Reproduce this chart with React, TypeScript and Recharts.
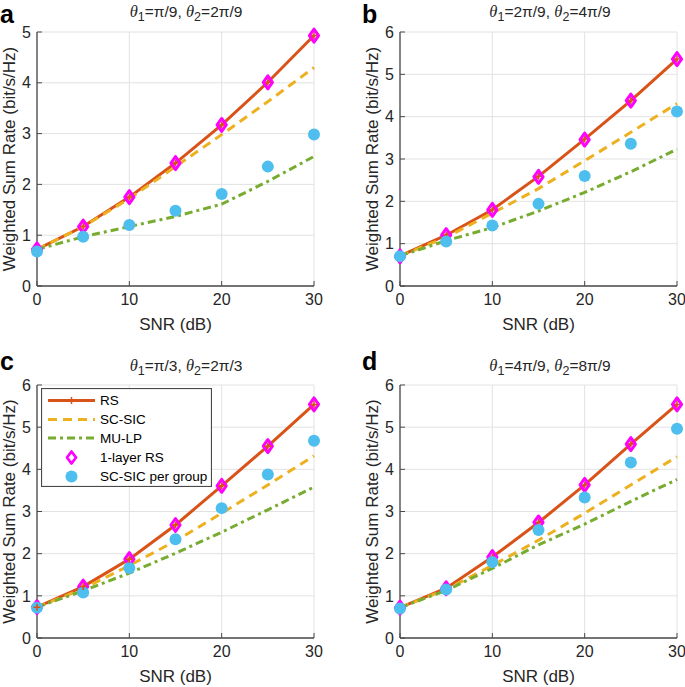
import React from 'react'
import { ComposedChart, Line, Scatter, XAxis, YAxis, CartesianGrid, Legend, Label } from 'recharts'

const FONT = '"Liberation Sans", Arial, Helvetica, sans-serif'
const INK = '#262626'
const AXIS = '#4a4a4a'
const GRID = '#e2e2e2'
const C_RS = '#D95319'
const C_SC = '#EDB120'
const C_MU = '#77AC30'
const C_ONE = '#FF00FF'
const C_GRP = '#4DBEEE'

// x values (SNR in dB)
const snr = [0, 5, 10, 15, 20, 25, 30]
const xTicks = [0, 10, 20, 30]

// panel a: theta1 = pi/9, theta2 = 2pi/9
const rsA = [0.72, 1.17, 1.75, 2.42, 3.17, 4.01, 4.93]
const scA = [0.72, 1.17, 1.72, 2.35, 2.98, 3.63, 4.3]
const muA = [0.72, 0.97, 1.17, 1.37, 1.61, 2.06, 2.55]
const oneA = [0.72, 1.17, 1.75, 2.42, 3.17, 4.01, 4.93]
const grpA = [0.68, 0.97, 1.2, 1.48, 1.81, 2.35, 2.98]

// panel b: theta1 = 2pi/9, theta2 = 4pi/9
const rsB = [0.71, 1.2, 1.8, 2.59, 3.47, 4.38, 5.36]
const scB = [0.71, 1.15, 1.72, 2.3, 2.96, 3.63, 4.31]
const muB = [0.71, 1.07, 1.38, 1.77, 2.21, 2.7, 3.23]
const oneB = [0.7, 1.2, 1.8, 2.58, 3.46, 4.38, 5.36]
const grpB = [0.7, 1.05, 1.43, 1.94, 2.6, 3.36, 4.12]

// panel c: theta1 = pi/3, theta2 = 2pi/3
const rsC = [0.73, 1.22, 1.87, 2.68, 3.61, 4.55, 5.54]
const scC = [0.73, 1.17, 1.72, 2.3, 2.96, 3.63, 4.32]
const muC = [0.73, 1.12, 1.54, 2.01, 2.51, 3.04, 3.58]
const oneC = [0.73, 1.22, 1.87, 2.68, 3.61, 4.55, 5.54]
const grpC = [0.72, 1.08, 1.66, 2.34, 3.08, 3.88, 4.68]

// panel d: theta1 = 4pi/9, theta2 = 8pi/9
const rsD = [0.72, 1.18, 1.92, 2.74, 3.63, 4.6, 5.54]
const scD = [0.72, 1.15, 1.72, 2.32, 2.96, 3.63, 4.3]
const muD = [0.72, 1.13, 1.65, 2.21, 2.7, 3.24, 3.76]
const oneD = [0.72, 1.18, 1.92, 2.74, 3.63, 4.6, 5.54]
const grpD = [0.7, 1.15, 1.8, 2.56, 3.33, 4.16, 4.96]

const seriesNames = ['RS', 'SC-SIC', 'MU-LP', '1-layer RS', 'SC-SIC per group']

const plus = (props: any) => {
  const { cx, cy, index } = props
  if (cx == null || cy == null) return <g key={index} />
  return (
    <path key={index} d={`M${cx - 3.5},${cy}H${cx + 3.5}M${cx},${cy - 3.5}V${cy + 3.5}`}
      stroke={C_RS} strokeWidth={1.5} fill="none" />
  )
}

const diamond = (props: any) => {
  const { cx, cy } = props
  return (
    <path d={`M${cx},${cy - 6.5}L${cx + 4.6},${cy}L${cx},${cy + 6.5}L${cx - 4.6},${cy}Z`}
      stroke={C_ONE} strokeWidth={3} strokeLinejoin="round" fill="none" />
  )
}

const dot = (props: any) => {
  const { cx, cy } = props
  return <circle cx={cx} cy={cy} r={6} fill={C_GRP} />
}

function LegendBox() {
  const rows = [12.5, 31.5, 50, 69.5, 88.5]
  return (
    <svg width={171} height={99} style={{ display: 'block' }}>
      <rect x={0.5} y={0.5} width={170} height={98} fill="#fff" stroke={AXIS} strokeWidth={1.2} />
      <line x1={7} x2={54} y1={rows[0]} y2={rows[0]} stroke={C_RS} strokeWidth={3} />
      <path d={`M27,${rows[0]}H34M30.5,${rows[0] - 3.5}V${rows[0] + 3.5}`} stroke={C_RS} strokeWidth={1.5} />
      <line x1={7} x2={54} y1={rows[1]} y2={rows[1]} stroke={C_SC} strokeWidth={3} strokeDasharray="9 6" />
      <line x1={7} x2={54} y1={rows[2]} y2={rows[2]} stroke={C_MU} strokeWidth={3} strokeDasharray="8 4 3 4" />
      <path d={`M30.5,${rows[3] - 6}L35,${rows[3]}L30.5,${rows[3] + 6}L26,${rows[3]}Z`}
        stroke={C_ONE} strokeWidth={2.8} strokeLinejoin="round" fill="none" />
      <circle cx={30.5} cy={rows[4]} r={6} fill={C_GRP} />
      {seriesNames.map((n, i) => (
        <text key={n} x={59} y={rows[i]} dominantBaseline="central" fontSize={13.5} fill="#000" fontFamily={FONT}>{n}</text>
      ))}
    </svg>
  )
}

type PanelProps = {
  x: number; y: number; w: number; h: number
  L: number; T: number; R: number; B: number
  ymax: number
  rs: number[]; sc: number[]; mu: number[]; one: number[]; grp: number[]
  letter: string; letterX: number; letterY: number
  t1: string; t2: string; titleX: number; titleY: number
  legend?: boolean
}

function Panel(p: PanelProps) {
  const data = snr.map((s, i) => ({ snr: s, rs: p.rs[i], sc: p.sc[i], mu: p.mu[i], one: p.one[i], grp: p.grp[i] }))
  const yTicks = Array.from({ length: p.ymax + 1 }, (_, i) => i)
  const midY = p.T + (p.B - p.T) / 2
  const midX = (p.L + p.R) / 2
  const tickStyle = { fill: INK, fontSize: 16, fontFamily: FONT }
  const axisLine = { stroke: AXIS, strokeWidth: 1.3 }
  return (
    <div style={{ position: 'absolute', left: p.x, top: p.y, width: p.w, height: p.h }}>
      <ComposedChart width={p.w} height={p.h} data={data}
        margin={{ top: p.T, right: p.w - p.R, bottom: 0, left: 0 }}>
        <CartesianGrid stroke={GRID} />
        <XAxis dataKey="snr" type="number" domain={[0, 30]} ticks={xTicks} height={p.h - p.B}
          tickSize={-5} tickMargin={13} tick={tickStyle} stroke={AXIS} axisLine={axisLine} interval={0}>
          <Label content={() => (
            <text x={midX} y={p.B + 38} textAnchor="middle" dominantBaseline="central"
              fontSize={17} fill={INK} fontFamily={FONT}>SNR (dB)</text>
          )} />
        </XAxis>
        <XAxis xAxisId="top" orientation="top" dataKey="snr" type="number" domain={[0, 30]} ticks={xTicks}
          height={0} tickSize={-5} tick={false} stroke={AXIS} axisLine={axisLine} />
        <YAxis type="number" domain={[0, p.ymax]} ticks={yTicks} width={p.L}
          tickSize={-5} tickMargin={11} tick={tickStyle} stroke={AXIS} axisLine={axisLine} interval={0}>
          <Label content={() => (
            <text x={p.L - 28} y={midY} transform={`rotate(-90 ${p.L - 28} ${midY})`} textAnchor="middle"
              dominantBaseline="central" fontSize={17} fill={INK} fontFamily={FONT}>Weighted Sum Rate (bit/s/Hz)</text>
          )} />
        </YAxis>
        <YAxis yAxisId="right" orientation="right" type="number" domain={[0, p.ymax]} ticks={yTicks}
          width={0} tickSize={-5} tick={false} stroke={AXIS} axisLine={axisLine} />
        <Line dataKey="rs" name="RS" stroke={C_RS} strokeWidth={3} dot={plus} activeDot={false} isAnimationActive={false} />
        <Line dataKey="sc" name="SC-SIC" stroke={C_SC} strokeWidth={3} strokeDasharray="9 6" dot={false} isAnimationActive={false} />
        <Line dataKey="mu" name="MU-LP" stroke={C_MU} strokeWidth={3} strokeDasharray="8 4 3 4" dot={false} isAnimationActive={false} />
        <Scatter dataKey="one" name="1-layer RS" shape={diamond} isAnimationActive={false} />
        <Scatter dataKey="grp" name="SC-SIC per group" shape={dot} isAnimationActive={false} />
        {p.legend && (
          <Legend layout="vertical" align="center" verticalAlign="middle"
            wrapperStyle={{ position: 'absolute', left: 41, top: 48, width: 171, height: 99 }}
            content={() => <LegendBox />} />
        )}
      </ComposedChart>
      <div style={{ position: 'absolute', left: p.letterX, top: p.letterY, fontFamily: FONT, fontWeight: 'bold',
        fontSize: 25, lineHeight: 'normal', color: '#000' }}>{p.letter}</div>
      <div style={{ position: 'absolute', left: p.titleX - 110, top: p.titleY - 10, width: 220, textAlign: 'center',
        fontFamily: FONT, fontSize: 15.5, lineHeight: '18px', color: INK, whiteSpace: 'nowrap' }}>
        <i style={{ fontFamily: '"Liberation Serif", serif', fontSize: 16.5 }}>θ</i><sub style={{ fontSize: 12.5 }}>1</sub>={p.t1},{' '}
        <i style={{ fontFamily: '"Liberation Serif", serif', fontSize: 16.5 }}>θ</i><sub style={{ fontSize: 12.5 }}>2</sub>={p.t2}
      </div>
    </div>
  )
}

export default function App() {
  return (
    <div style={{ position: 'absolute', left: 0, top: 0, width: 685, height: 687, background: '#fff', overflow: 'hidden' }}>
      <Panel x={0} y={0} w={342} h={340} L={37} T={32} R={314} B={286} ymax={5}
        rs={rsA} sc={scA} mu={muA} one={oneA} grp={grpA}
        letter="a" letterX={0} letterY={0} t1="π/9" t2="2π/9" titleX={186} titleY={13} />
      <Panel x={342} y={0} w={343} h={340} L={58} T={32} R={335} B={286} ymax={6}
        rs={rsB} sc={scB} mu={muB} one={oneB} grp={grpB}
        letter="b" letterX={20} letterY={0} t1="2π/9" t2="4π/9" titleX={208} titleY={13} />
      <Panel x={0} y={340} w={342} h={347} L={37} T={45} R={314} B={298} ymax={6}
        rs={rsC} sc={scC} mu={muC} one={oneC} grp={grpC}
        letter="c" letterX={0} letterY={7} t1="π/3" t2="2π/3" titleX={186} titleY={27} legend />
      <Panel x={342} y={340} w={343} h={347} L={58} T={45} R={335} B={298} ymax={6}
        rs={rsD} sc={scD} mu={muD} one={oneD} grp={grpD}
        letter="d" letterX={20} letterY={7} t1="4π/9" t2="8π/9" titleX={208} titleY={27} />
    </div>
  )
}
